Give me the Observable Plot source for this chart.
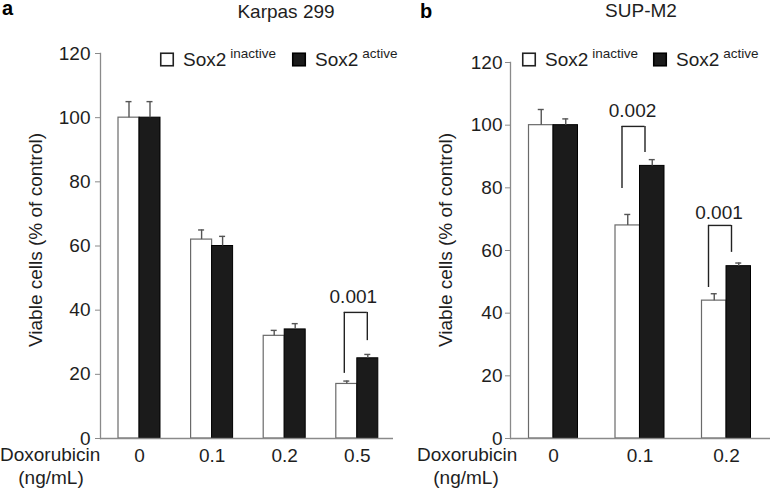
<!DOCTYPE html>
<html>
<head>
<meta charset="utf-8">
<script src="https://cdn.jsdelivr.net/npm/d3@7"></script>
<script src="https://cdn.jsdelivr.net/npm/@observablehq/plot@0.6"></script>
<style>
  body { margin: 0; background: #fff; }
  #wrap { position: relative; width: 770px; height: 490px; overflow: hidden; background: #fff; }
  #wrap > svg { position: absolute; top: 0; }
</style>
</head>
<body>
<div id="wrap"></div>
<script>
// ---------- data ----------
const dosesA = ["0", "0.1", "0.2", "0.5"];
const inactiveA = [100, 62, 32, 17];
const activeA = [100, 60, 34, 25];
const errInactiveA = [5, 3, 1.7, 0.9];
const errActiveA = [5, 3, 1.8, 1.2];

const dosesB = ["0", "0.1", "0.2"];
const inactiveB = [100, 68, 44];
const activeB = [100, 87, 55];
const errInactiveB = [5, 3.5, 2.2];
const errActiveB = [2, 2, 1];

const yTicks = [0, 20, 40, 60, 80, 100, 120];
const seriesNames = ["inactive", "active"];
const panelTitles = ["Karpas 299", "SUP-M2"];
const panelLetters = ["a", "b"];
const yLabel = "Viable cells (% of control)";
const xLabel1 = "Doxorubicin";
const xLabel2 = "(ng/mL)";

// significance brackets: dose, p-value, bracket top, left leg end, right leg end, label height
const sigDoseA = ["0.5"];
const sigPA = ["0.001"];
const sigTopA = [39.3];
const sigLeftA = [20.3];
const sigRightA = [30.5];
const sigLabelA = [44];

const sigDoseB = ["0.1", "0.2"];
const sigPB = ["0.002", "0.001"];
const sigTopB = [99.6, 68];
const sigLeftB = [79.8, 48.2];
const sigRightB = [91.3, 59.4];
const sigLabelB = [104.7, 72.1];

// ---------- layout / style ----------
const FONT = "Liberation Sans, Arial, Helvetica, sans-serif";
const TEXT = "#1e1e1e";
const AXIS = "#8a8a8a";

const panels = [
  {
    doses: dosesA, inactive: inactiveA, active: activeA, errIn: errInactiveA, errAct: errActiveA,
    sig: sigDoseA.map((d, i) => ({dose: d, p: sigPA[i], top: sigTopA[i], left: sigLeftA[i], right: sigRightA[i], label: sigLabelA[i]})),
    left: 0, width: 393, marginTop: 53, marginLeft: 100, marginRight: 0,
    xRange: [81.7, 414.1], paddingInner: 0.4215, bw: 42, yTickPadding: 5,
    dl: -13, dr: 10, labelDx: -4,
    legendX: [160, 292], letterX: 2, letterY: 15, titleX: 286, titleY: 18,
    yLabelX: 37, doxX: 0, doxY: 461, ngX: 51, ngY: 484
  },
  {
    doses: dosesB, inactive: inactiveB, active: activeB, errIn: errInactiveB, errAct: errActiveB,
    sig: sigDoseB.map((d, i) => ({dose: d, p: sigPB[i], top: sigTopB[i], left: sigLeftB[i], right: sigRightB[i], label: sigLabelB[i]})),
    left: 385, width: 385, marginTop: 62, marginLeft: 125, marginRight: 0,
    xRange: [100.25, 408.75], paddingInner: 0.4335, bw: 49, yTickPadding: 3,
    dl: -18, dr: 5, labelDx: -7.5,
    legendX: [137, 268], letterX: 35, letterY: 18, titleX: 256, titleY: 17,
    yLabelX: 62, doxX: 32, doxY: 461, ngX: 81, ngY: 484
  }
];

const wrap = document.getElementById("wrap");

panels.forEach((P) => {
  const rows = P.doses.map((d, i) => ({
    dose: d, inactive: P.inactive[i], active: P.active[i], eIn: P.errIn[i], eAct: P.errAct[i]
  }));
  const bw = P.bw;
  const chart = Plot.plot({
    width: P.width,
    height: 490,
    marginTop: P.marginTop,
    marginBottom: 52,
    marginLeft: P.marginLeft,
    marginRight: P.marginRight,
    style: {fontFamily: FONT, fontSize: "19px", color: TEXT, background: "transparent", overflow: "visible"},
    x: {domain: P.doses, range: P.xRange, paddingInner: P.paddingInner, paddingOuter: 0.5, align: 0.5, round: false},
    y: {domain: [0, 120]},
    marks: [
      Plot.barY(rows, {x: "dose", y: "inactive", fill: "#fff", stroke: "#6a6a6a", strokeWidth: 1.2, insetRight: bw / 2}),
      Plot.barY(rows, {x: "dose", y: "active", fill: "#1b1b1b", stroke: "#000", strokeWidth: 1, insetLeft: bw / 2}),
      // error bars (upper only)
      Plot.ruleX(rows, {x: "dose", y1: "inactive", y2: (d) => d.inactive + d.eIn, dx: -bw / 4, stroke: "#555", strokeWidth: 1.4}),
      Plot.tickY(rows, {x: "dose", y: (d) => d.inactive + d.eIn, insetLeft: bw / 4 - 3, insetRight: 3 * bw / 4 - 3, stroke: "#555", strokeWidth: 1.4}),
      Plot.ruleX(rows, {x: "dose", y1: "active", y2: (d) => d.active + d.eAct, dx: bw / 4, stroke: "#555", strokeWidth: 1.4}),
      Plot.tickY(rows, {x: "dose", y: (d) => d.active + d.eAct, insetLeft: 3 * bw / 4 - 3, insetRight: bw / 4 - 3, stroke: "#555", strokeWidth: 1.4}),
      // significance brackets
      Plot.ruleX(P.sig, {x: "dose", y1: "left", y2: "top", dx: P.dl, stroke: "#222", strokeWidth: 1.4}),
      Plot.ruleX(P.sig, {x: "dose", y1: "right", y2: "top", dx: P.dr, stroke: "#222", strokeWidth: 1.4}),
      Plot.tickY(P.sig, {x: "dose", y: "top", insetLeft: bw / 2 + P.dl, insetRight: bw / 2 - P.dr, stroke: "#222", strokeWidth: 1.4}),
      Plot.text(P.sig, {x: "dose", y: "label", text: "p", dx: P.labelDx, fill: TEXT, fontSize: 19}),
      // axes
      Plot.ruleY([0], {stroke: AXIS, strokeWidth: 1.3}),
      Plot.frame({anchor: "left", stroke: AXIS, strokeWidth: 1.3}),
      Plot.axisY({ticks: yTicks, tickSize: 5, tickPadding: P.yTickPadding, label: null, stroke: AXIS, fill: TEXT}),
      Plot.axisX({tickSize: 0, tickPadding: 10, label: null, fill: TEXT})
    ]
  });
  chart.style.left = P.left + "px";
  wrap.appendChild(chart);
});

// ---------- overlay texts: letters, titles, legends, axis labels ----------
const ov = d3.select(wrap).append("svg")
  .attr("width", 770).attr("height", 490)
  .style("left", "0px")
  .attr("font-family", FONT)
  .attr("fill", TEXT);

panels.forEach((P, k) => {
  const g = ov.append("g").attr("transform", `translate(${P.left},0)`);
  g.append("text").attr("x", P.letterX).attr("y", P.letterY)
    .attr("font-size", 20).attr("font-weight", "bold").attr("fill", "#000").text(panelLetters[k]);
  g.append("text").attr("x", P.titleX).attr("y", P.titleY)
    .attr("font-size", 19).attr("text-anchor", "middle").text(panelTitles[k]);
  g.append("text")
    .attr("transform", `translate(${P.yLabelX},240) rotate(-90)`)
    .attr("text-anchor", "middle").attr("dominant-baseline", "middle")
    .attr("font-size", 19).text(yLabel);
  g.append("text").attr("x", P.doxX).attr("y", P.doxY).attr("font-size", 19).text(xLabel1);
  g.append("text").attr("x", P.ngX).attr("y", P.ngY).attr("font-size", 19)
    .attr("text-anchor", "middle").text(xLabel2);
  // legend
  seriesNames.forEach((s, j) => {
    const x0 = P.legendX[j];
    g.append("rect").attr("x", x0 + 0.75).attr("y", 53.25).attr("width", 12.5).attr("height", 12.5)
      .attr("fill", j === 0 ? "#fff" : "#1b1b1b").attr("stroke", j === 0 ? "#222" : "#000").attr("stroke-width", 1.6);
    const t = g.append("text").attr("x", x0 + 23).attr("y", 66).attr("font-size", 19).text("Sox2");
    t.append("tspan").attr("dx", 4).attr("dy", -8).attr("font-size", 13.5).text(s);
  });
});
</script>
</body>
</html>
